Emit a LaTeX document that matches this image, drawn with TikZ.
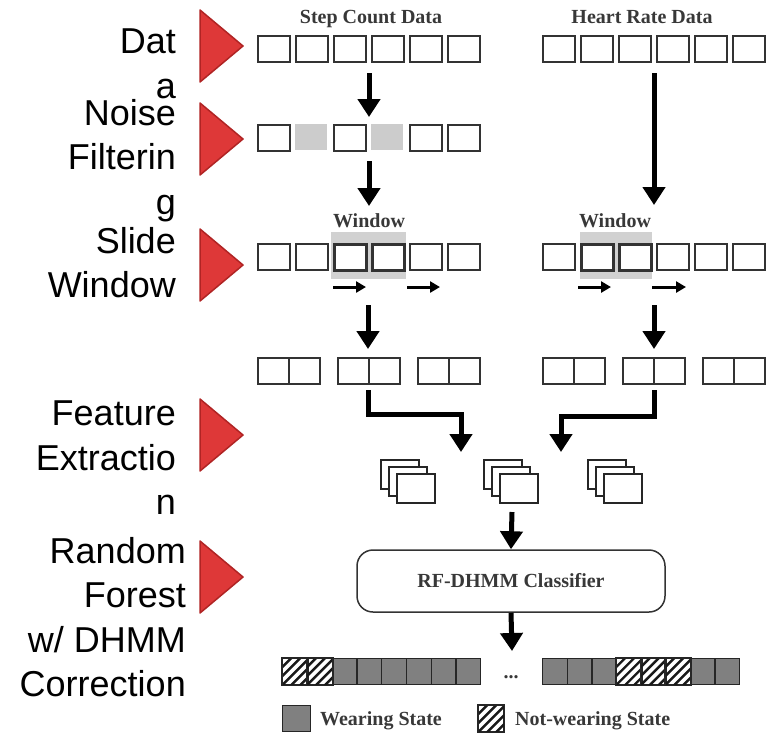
\documentclass[tikz,border=0pt]{standalone}
\usepackage{fontspec}
\setmainfont{Liberation Serif}
\setsansfont{Liberation Sans}
\usetikzlibrary{arrows.meta}

\definecolor{tri}{RGB}{222,56,56}
\definecolor{triedge}{RGB}{176,36,36}

% diagonal "/" hatching inside a named cell, then its border stroked again
\newcommand{\hatchcell}[1]{%
  \begin{scope}
    \clip (#1.south west) rectangle (#1.north east);
    \foreach \k in {-36,-27,...,36}
      \draw[line width=2.4pt, black!90] ([xshift=\k pt]#1.south west) -- ++(32,-32);
  \end{scope}
  \draw[draw=black!85, line width=1.4pt] (#1.south west) rectangle (#1.north east);
}

\begin{document}
\begin{tikzpicture}[x=1pt,y=-1pt,
  cell/.style={draw=black!80, line width=1.9pt, minimum width=32pt, minimum height=26pt,
               inner sep=0pt, anchor=north west, fill=white},
  wincell/.style={cell, line width=2.5pt},
  noisecell/.style={draw=none, fill=black!20, minimum width=32pt, minimum height=26pt,
               inner sep=0pt, anchor=north west},
  half/.style={cell, minimum width=31pt},
  stk/.style={draw=black!85, line width=1.5pt, fill=white, minimum width=38pt,
               minimum height=29pt, inner sep=0pt, anchor=north west},
  wear/.style={draw=black!85, line width=1.4pt, fill=black!50, minimum width=24.75pt,
               minimum height=26pt, inner sep=0pt, anchor=north west},
  notwear/.style={draw=black!85, line width=1.4pt, fill=white, minimum width=24.75pt,
               minimum height=26pt, inner sep=0pt, anchor=north west},
  serif/.style={font=\fontsize{20}{24}\selectfont\bfseries, text=black!78, inner sep=0pt},
  lab/.style={font=\sffamily\fontsize{36}{44.5}\selectfont, align=right, anchor=north east,
               inner sep=0pt},
  bigarrow/.style={line width=5pt, -{Triangle[width=22pt,length=18pt]}},
  smallarrow/.style={line width=3pt, -{Triangle[width=11pt,length=10pt]}},
  marker/.style={fill=tri, draw=triedge, line width=1.5pt, line join=round},
]
\useasboundingbox (0,0) rectangle (775,732);

% ---- stage labels ----
\node[lab] (lData)    at (176,29)  {Dat\\a};
\node[lab] (lNoise)   at (176,99)  {Noise\\Filterin\\g};
\node[lab] (lSlide)   at (176,227) {Slide\\Window};
\node[lab] (lFeature) at (176,401) {Feature\\Extractio\\n};
\node[lab] (lRandom)  at (186,537) {Random\\Forest\\w/ DHMM\\Correction};

% ---- red stage markers ----
\foreach \t/\m in {10/46, 103/139, 229/265, 399/435, 541/577}
  \path[marker] (200,\t) -- (243,\m) -- (200,{2*\m-\t}) -- cycle;

% ---- raw data rows ----
\node[serif, anchor=base] (tStep)  at (371,23) {Step Count Data};
\node[serif, anchor=base] (tHeart) at (642,23) {Heart Rate Data};
\foreach \i in {0,...,5} {
  \node[cell] (sc\i) at ({257+38*\i},35) {};
  \node[cell] (hr\i) at ({542+38*\i},35) {};
}

% ---- noise filtered step row ----
\foreach \i in {0,2,4,5}
  \node[cell] (nf\i) at ({257+38*\i},124) {};
\foreach \i in {1,3}
  \node[noisecell] (nf\i) at ({257+38*\i},124) {};

% ---- sliding window rows ----
\fill[black!18] (331,232) rectangle (406,279);
\fill[black!18] (580,232) rectangle (652,279);
\node[serif, anchor=base] (wL) at (369,227) {Window};
\node[serif, anchor=base] (wR) at (615,227) {Window};
\foreach \i in {0,1,4,5} {
  \node[cell] (sw\i) at ({257+38*\i},243) {};
}
\foreach \i in {2,3}
  \node[wincell] (sw\i) at ({257+38*\i},243) {};
\foreach \i in {0,3,4,5}
  \node[cell] (hw\i) at ({542+38*\i},243) {};
\foreach \i in {1,2}
  \node[wincell] (hw\i) at ({542+38*\i},243) {};

\coordinate (la1s) at (333,287); \coordinate (la1e) at (366,287);
\coordinate (la2s) at (407,287); \coordinate (la2e) at (440,287);
\coordinate (ra1s) at (578,287); \coordinate (ra1e) at (611,287);
\coordinate (ra2s) at (652,287); \coordinate (ra2e) at (686,287);
\draw[smallarrow] (la1s) -- (la1e);
\draw[smallarrow] (la2s) -- (la2e);
\draw[smallarrow] (ra1s) -- (ra1e);
\draw[smallarrow] (ra2s) -- (ra2e);

% ---- windowed pairs ----
\foreach \k/\x in {1/257, 2/337, 3/417} {
  \node[half] (lp\k a) at (\x,357) {};
  \node[half] (lp\k b) at ({\x+31},357) {};
}
\foreach \k/\x in {1/542, 2/622, 3/702} {
  \node[half] (rp\k a) at (\x,357) {};
  \node[half] (rp\k b) at ({\x+31},357) {};
}

% ---- feature stacks ----
\foreach \n/\x in {L/380, M/483, R/587} {
  \node[stk] (st\n1) at (\x,459) {};
  \node[stk] (st\n2) at ({\x+8},466) {};
  \node[stk] (st\n3) at ({\x+16},473) {};
}

% ---- classifier ----
\node[draw=black!80, line width=1.5pt, rounded corners=16pt, minimum width=308pt,
      minimum height=62pt, inner sep=0pt, font=\fontsize{20}{24}\selectfont\bfseries,
      text=black!78] (clf) at (511,581) {RF-DHMM Classifier};

% ---- output sequences ----
\foreach \i in {0,...,7} {
  \pgfmathsetmacro{\xx}{282+24.75*\i}
  \ifnum\i<2
    \node[notwear] (oL\i) at (\xx,658) {};
  \else
    \node[wear] (oL\i) at (\xx,658) {};
  \fi
}
\foreach \i in {0,...,7} {
  \pgfmathsetmacro{\xx}{542+24.6*\i}
  \ifnum\i<3
    \node[wear] (oR\i) at (\xx,658) {};
  \else\ifnum\i<6
    \node[notwear] (oR\i) at (\xx,658) {};
  \else
    \node[wear] (oR\i) at (\xx,658) {};
  \fi\fi
}
\hatchcell{oL0} \hatchcell{oL1}
\hatchcell{oR3} \hatchcell{oR4} \hatchcell{oR5}
\node[serif, anchor=base] (dots) at (511,678) {...};

% ---- legend ----
\node[wear, minimum width=28pt, minimum height=26pt] (kW) at (282,705) {};
\node[serif, anchor=base west] (kWt) at (320,725) {Wearing State};
\node[notwear, minimum width=25pt, minimum height=26pt] (kN) at (478,705) {};
\hatchcell{kN}
\node[serif, anchor=base west] (kNt) at (515,725) {Not-wearing State};

% ---- flow arrows ----
\coordinate (a1s) at (369,73);  \coordinate (a1e) at (369,117);
\coordinate (a2s) at (369,161); \coordinate (a2e) at (369,206);
\coordinate (a3s) at (654,73);  \coordinate (a3e) at (654,205);
\coordinate (a4s) at (368,305); \coordinate (a4e) at (368,349);
\coordinate (a5s) at (654,305); \coordinate (a5e) at (654,349);
\coordinate (e1s) at (368,390); \coordinate (e1m) at (461,414); \coordinate (e1e) at (461,452);
\coordinate (e2s) at (654,390); \coordinate (e2m) at (561,416); \coordinate (e2e) at (561,452);
\coordinate (a6s) at (512,512);
\coordinate (a7e) at (512,651);
\draw[bigarrow] (a1s) -- (a1e);
\draw[bigarrow] (a2s) -- (a2e);
\draw[bigarrow] (a3s) -- (a3e);
\draw[bigarrow] (a4s) -- (a4e);
\draw[bigarrow] (a5s) -- (a5e);
\draw[bigarrow, line join=miter] (e1s) |- (e1m) -- (e1e);
\draw[bigarrow, line join=miter] (e2s) |- (e2m) -- (e2e);
\draw[bigarrow] (a6s) -- (clf.north);
\draw[bigarrow] (clf.south) -- (a7e);
\end{tikzpicture}
\end{document}
